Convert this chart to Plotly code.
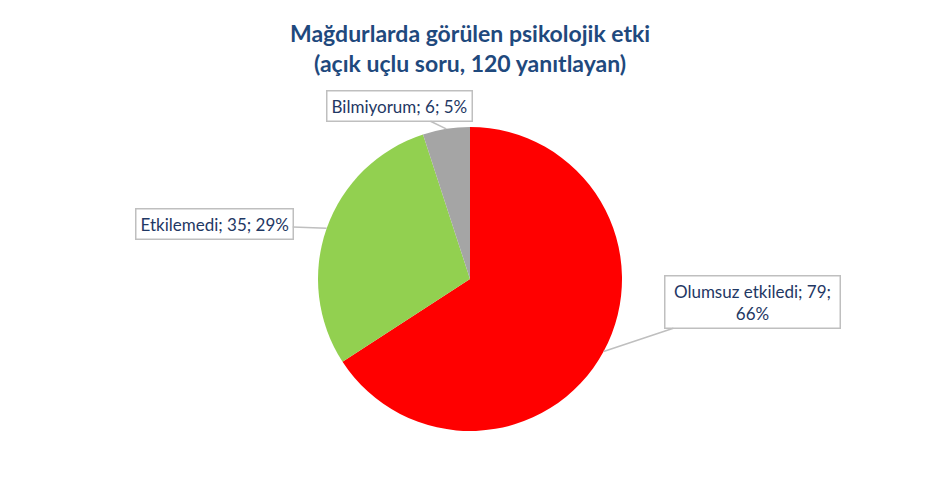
import math
import plotly.graph_objects as go

# veriler
kategoriler = ["Olumsuz etkiledi", "Etkilemedi", "Bilmiyorum"]
degerler = [79, 35, 6]
yuzdeler = ["66%", "29%", "5%"]
renkler = ["#FF0000", "#92D050", "#A5A5A5"]

# sayfa kenar boslugu (body margin) 8 px -> figur 8 px kaydirilir
OFS = 8
W, H = 941 - OFS, 477 - OFS
cx, cy, r = 470 - OFS, 279 - OFS, 152  # pasta merkezi / yaricap (piksel)

fig = go.Figure(go.Pie(
    labels=kategoriler,
    values=degerler,
    marker=dict(colors=renkler, line=dict(width=0)),
    sort=False,
    direction="clockwise",
    rotation=0,
    textinfo="none",
    hoverinfo="label+value+percent",
    showlegend=False,
    domain=dict(x=[(cx - r) / W, (cx + r) / W], y=[1 - (cy + r) / H, 1 - (cy - r) / H]),
))

# etiket kutulari: dilim ortasindan disari
etiket_metin = [
    "{}; {};<br>{}".format(kategoriler[0], degerler[0], yuzdeler[0]),
    "{}; {}; {}".format(kategoriler[1], degerler[1], yuzdeler[1]),
    "{}; {}; {}".format(kategoriler[2], degerler[2], yuzdeler[2]),
]
kutu_merkez = [(752 - OFS, 302 - OFS), (214 - OFS, 224 - OFS), (399 - OFS, 106 - OFS)]
kutu_genislik = [166, None, None]

toplam = sum(degerler)
birikim = 0
for i, v in enumerate(degerler):
    orta = (birikim + v / 2) / toplam * 2 * math.pi
    birikim += v
    px_ = cx + r * math.sin(orta)
    py_ = cy - r * math.cos(orta)
    bx, by = kutu_merkez[i]
    ann = dict(
        x=px_ / W, y=1 - py_ / H, xref="paper", yref="paper",
        text=etiket_metin[i],
        showarrow=True, arrowhead=0, arrowwidth=1.5, arrowcolor="#BFBFBF",
        ax=bx - px_, ay=by - py_,
        bordercolor="#BFBFBF", borderwidth=1.5, borderpad=4,
        bgcolor="white",
        font=dict(family="Lato", size=17, color="#1F3864"),
        align="center",
    )
    if kutu_genislik[i]:
        ann["width"] = kutu_genislik[i]
    fig.add_annotation(**ann)

# baslik
fig.add_annotation(
    text="<b>Mağdurlarda görülen psikolojik etki<br>(açık uçlu soru, 120 yanıtlayan)</b>",
    x=(470 - OFS) / W, y=1 - (17 - OFS) / H, xref="paper", yref="paper",
    xanchor="center", yanchor="top", showarrow=False, align="center",
    font=dict(family="Lato", size=23, color="#1F497D"),
)

fig.update_layout(
    width=W, height=H,
    margin=dict(l=0, r=0, t=0, b=0),
    paper_bgcolor="white",
    plot_bgcolor="white",
)

fig.write_html("out.html")
